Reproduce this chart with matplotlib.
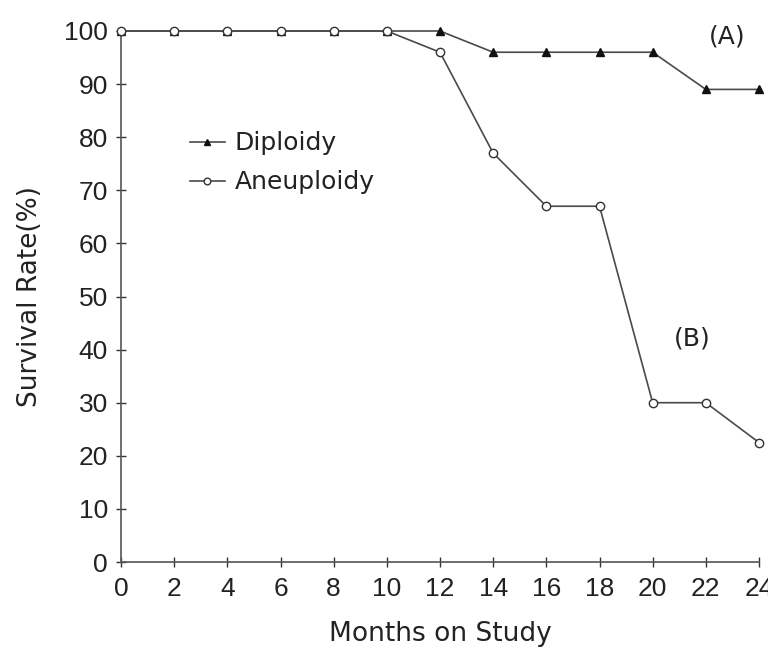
import matplotlib
matplotlib.use("Agg")
import matplotlib.pyplot as plt

months = [0, 2, 4, 6, 8, 10, 12, 14, 16, 18, 20, 22, 24]
diploidy = [100, 100, 100, 100, 100, 100, 100, 96, 96, 96, 96, 89, 89]
aneuploidy = [100, 100, 100, 100, 100, 100, 96, 77, 67, 67, 30, 30, 22.5]
xticks = list(range(0, 25, 2))
yticks = list(range(0, 101, 10))

plt.rcParams['font.family'] = ['DejaVu Sans']
fig = plt.figure(figsize=(7.68, 6.62), dpi=100)
ax = fig.add_axes([121 / 768, 100 / 662, 638 / 768, 531 / 662])

lc = '#4a4a4a'
ax.plot(months, diploidy, color=lc, lw=1.2, marker='^', ms=6,
        mfc='#111111', mec='#111111', label='Diploidy', clip_on=False, zorder=3)
ax.plot(months, aneuploidy, color=lc, lw=1.2, marker='o', ms=6,
        mfc='white', mec='#333333', mew=1.0, label='Aneuploidy', clip_on=False, zorder=3)

ax.set_xlim(0, 24)
ax.set_ylim(0, 100)
ax.set_xticks(xticks)
ax.set_yticks(yticks)
ax.tick_params(direction='inout', length=7, width=1, colors='#333333',
               labelcolor='#222222')
ax.tick_params(axis='y', pad=6)
ax.tick_params(axis='x', pad=7)
for lab in ax.get_xticklabels() + ax.get_yticklabels():
    lab.set_fontfamily('Liberation Sans')
    lab.set_fontsize(19)
for s in ['top', 'right']:
    ax.spines[s].set_visible(False)
for s in ['left', 'bottom']:
    ax.spines[s].set_color('#555555')
    ax.spines[s].set_linewidth(1.2)

ax.set_xlabel('Months on Study', fontsize=19, color='#222222', labelpad=15)
ax.set_ylabel('Survival Rate(%)', fontsize=19, color='#222222', labelpad=15)

ax.text(22.8, 99, '(A)', fontsize=18, color='#222222', ha='center', va='center')
ax.text(21.5, 42, '(B)', fontsize=18, color='#222222', ha='center', va='center')

leg = ax.legend(loc='upper left', bbox_to_anchor=(0.092, 0.83), frameon=False,
                fontsize=18, handlelength=1.4, handletextpad=0.4,
                labelspacing=0.6, markerscale=0.8, borderaxespad=0)
for t in leg.get_texts():
    t.set_color('#222222')

fig.savefig('out.png', dpi=100)
